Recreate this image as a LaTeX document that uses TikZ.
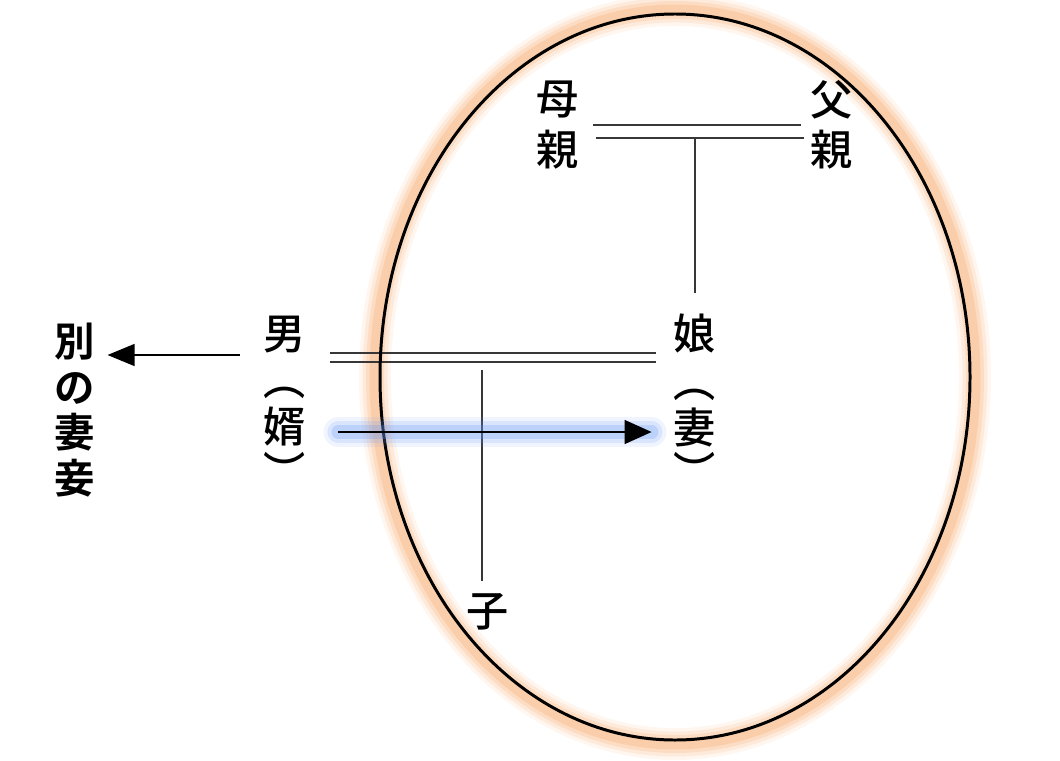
\documentclass[tikz,border=0pt]{standalone}
\usepackage{fontspec}
\usepackage{xcolor}
\setmainfont{Noto Sans CJK JP}[UprightFont=* Medium,BoldFont=* Bold]
\usetikzlibrary{calc,arrows.meta,positioning}
\definecolor{glowOrange}{RGB}{248,165,100}
\definecolor{glowBlue}{RGB}{100,150,245}
\definecolor{lineGray}{RGB}{55,55,55}

\begin{document}
\begin{tikzpicture}[x=0.02cm,y=-0.02cm,
  kanji/.style={inner sep=0pt,align=center,font=\fontsize{24}{28.5}\selectfont},
  kinship/.style={draw=lineGray,line width=1.1pt}]
\useasboundingbox (0,0) rectangle (1060,760);

% family circle with its glow
\foreach \w/\o in {32/0.1,25/0.15,18/0.2,11/0.25}
  \draw[glowOrange,line width=\w*0.567pt,opacity=\o] (675,377) ellipse [x radius=300,y radius=367];

\node[kanji] (mother) at (558,125) {母\\親};
\node[kanji] (father) at (832,125) {父\\親};
\node[kanji] (man) at (285,335) {男};
\node[kanji] (groomOpen) at (285,393) {︵};
\node[kanji] (groom) at (285,426) {婿};
\node[kanji] (groomClose) at (285,470) {︶};
\node[kanji] (daughter) at (695,333) {娘};
\node[kanji] (wifeOpen) at (695,395) {︵};
\node[kanji] (wife) at (695,427) {妻};
\node[kanji] (wifeClose) at (695,470) {︶};
\node[kanji] (child) at (488,612) {子};
\node[inner sep=0pt,align=center,font=\bfseries\fontsize{23}{26}\selectfont] (other) at (75,410) {別\\の\\妻\\妾};

% parents
\draw[kinship] ($(mother.east)+(14,0)$) -- ($(father.west)+(-10,0)$);
\draw[kinship] ($(mother.east)+(17,13)$) -- ($(father.west)+(-7,13)$);
\coordinate (parentsMid) at ($(mother.east)!0.5!(father.west)+(0,13)$);
\draw[kinship] (parentsMid) -- (parentsMid |- {$(daughter.north)+(0,-20)$});

% couple
\draw[kinship] ($(man.east)+(24,18)$) -- ($(daughter.west)+(-18,20)$);
\draw[kinship] ($(man.east)+(24,27)$) -- ($(daughter.west)+(-18,29)$);
\coordinate (coupleMid) at ($(man.east)+(176,35)$);
\draw[kinship] (coupleMid) -- (coupleMid |- {$(child.north)+(0,-12)$});

\draw[line width=1.7pt] (675,377) ellipse [x radius=295,y radius=363];

% arrows
\draw[line width=0.8pt,-{Triangle[length=0.54cm,width=0.44cm]}]
  ($(man.west)+(-24,20)$) -- ($(other.east |- man.west)+(12,20)$);
\foreach \w/\o in {30/0.1,22/0.16,14/0.24}
  \draw[glowBlue,line width=\w*0.567pt,opacity=\o,line cap=round]
    ($(groom.east)+(32,6)$) -- ($(wife.west)+(-22,5)$);
\draw[line width=0.8pt,-{Triangle[length=0.54cm,width=0.48cm]}]
  ($(groom.east)+(32,6)$) -- ($(wife.west)+(-22,5)$);
\end{tikzpicture}
\end{document}
